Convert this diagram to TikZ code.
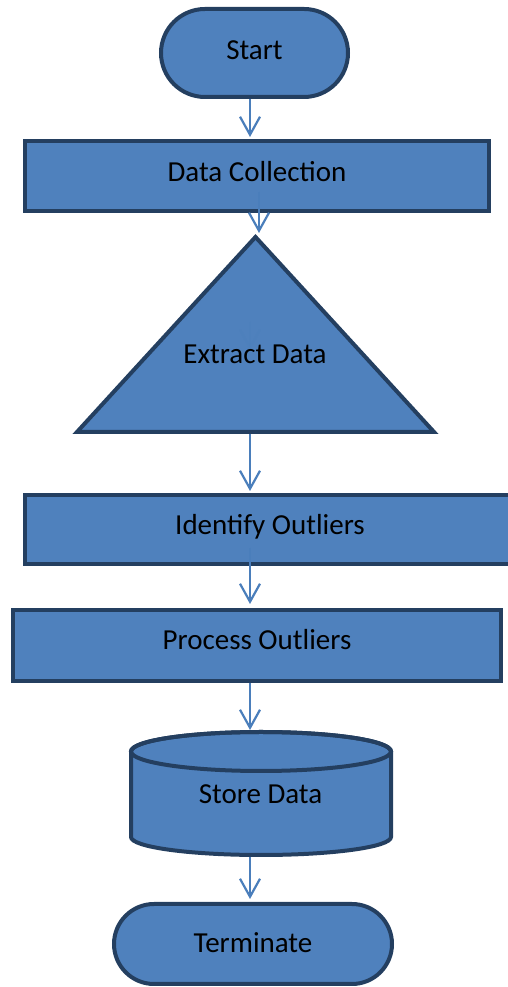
\documentclass[tikz,border=0pt]{standalone}
\usepackage{fontspec}
\setmainfont{Carlito}
\usetikzlibrary{arrows.meta}
\definecolor{boxfill}{HTML}{4F81BD}
\definecolor{boxline}{HTML}{243F60}
\definecolor{arrowcol}{HTML}{4A7EBB}
\begin{document}
\begin{tikzpicture}[x=1pt,y=1pt,
  flowbox/.style={draw=boxline, fill=boxfill, line width=4pt, inner sep=0pt,
    font=\fontsize{29}{34}\selectfont, text=black, text depth=0pt},
  procbox/.style={flowbox, rectangle, line join=miter},
  termbox/.style={flowbox, rectangle, rounded corners=40pt},
  lbl/.style={inner sep=0pt, font=\fontsize{29}{34}\selectfont, text=black, text depth=0pt, text height=20pt},
  flowarrow/.style={draw=arrowcol, line width=2.2pt, -{Straight Barb[length=18pt,width=20pt,line width=2.2pt]}}
]
\useasboundingbox (0,0) rectangle (508,987);
\clip (0,0) rectangle (508,987);

% nodes
\node[termbox, rounded corners=44pt, minimum width=187pt, minimum height=88pt, text height=14pt] (start) at (254.5,934) {Start};
\node[procbox, minimum width=464pt, minimum height=70pt, text height=12pt] (dc) at (257,811) {Data Collection};

\draw[draw=boxline, fill=boxfill, line width=4pt, line join=miter] (77,555) -- (255.5,750) -- (434,555) -- cycle;
\coordinate (ghostA) at (250,665);
\coordinate (ghostB) at (250,637);
\draw[flowarrow, opacity=0.3] (ghostA) -- (ghostB);
\node[lbl] (extract) at (255,633.5) {Extract Data};
\coordinate (triTop) at (259,754);
\coordinate (triBase) at (250,553);

\node[procbox, minimum width=490pt, minimum height=69pt, text height=11pt] (io) at (270,457.5) {Identify Outliers};
\node[procbox, minimum width=488pt, minimum height=71pt, text height=9pt] (pc) at (257,341.5) {Process Outliers};

% cylinder
\draw[draw=boxline, fill=boxfill, line width=4pt]
  (131,235.5) -- (131,150) arc[start angle=180, end angle=360, x radius=130, y radius=18]
  -- (391,235.5) arc[start angle=0, end angle=180, x radius=130, y radius=19.5] -- cycle;
\draw[draw=boxline, line width=4pt] (261,235.5) ellipse[x radius=130, y radius=19.5];
\node[lbl] (store) at (260.5,193) {Store Data};
\coordinate (cylTop) at (250,257);
\coordinate (cylBot) at (250,130);

\node[termbox, minimum width=278pt, minimum height=80pt, text height=18pt] (term) at (253,43) {Terminate};

% connectors
\coordinate (dcOut) at (259,795);
\coordinate (ioOut) at (250,439);
\draw[flowarrow] (start.south -| 250,0) -- ([yshift=2pt]dc.north -| 250,0);
\draw[flowarrow] (dcOut) -- (triTop);
\draw[flowarrow] (triBase) -- ([yshift=2pt]io.north -| triBase);
\draw[flowarrow] (ioOut) -- ([yshift=4pt]pc.north -| ioOut);
\draw[flowarrow] (pc.south -| cylTop) -- (cylTop);
\draw[flowarrow, shorten >=3pt] (cylBot) -- (cylBot |- term.north);
\end{tikzpicture}
\end{document}
